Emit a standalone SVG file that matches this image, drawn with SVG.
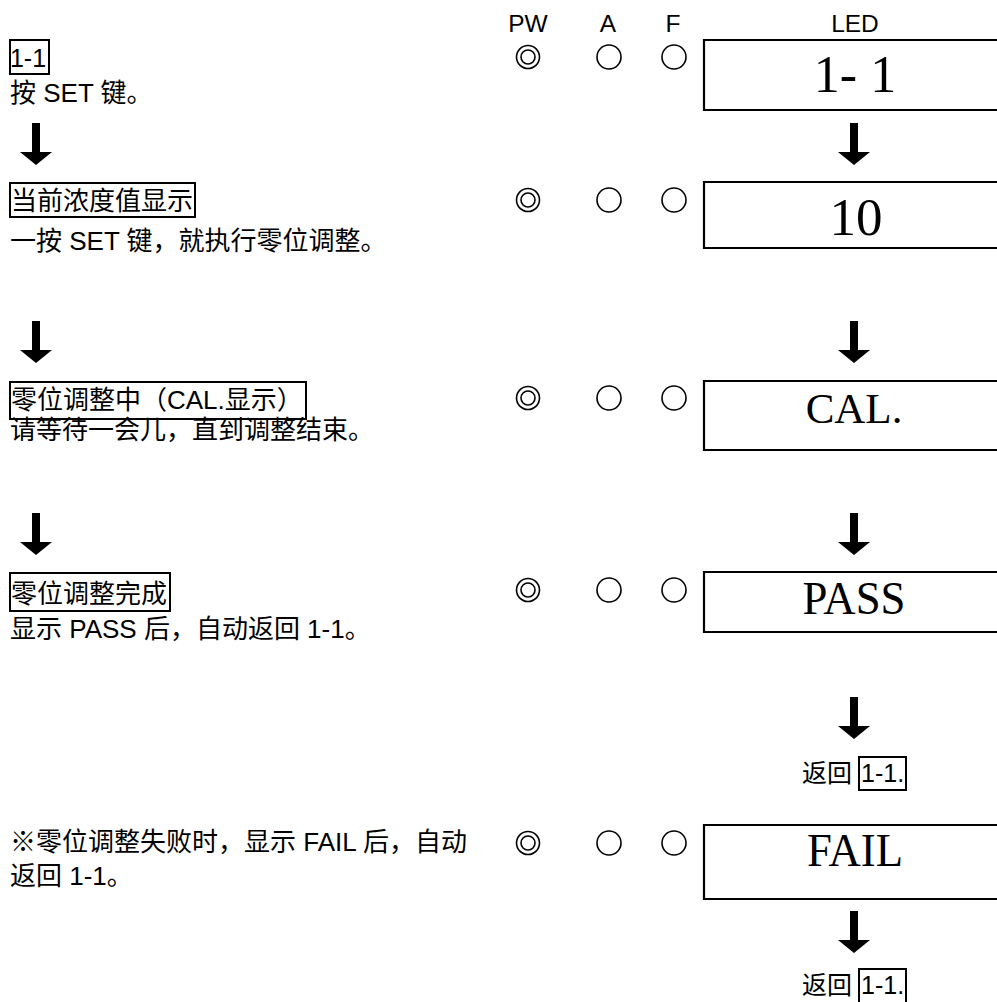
<svg xmlns="http://www.w3.org/2000/svg" xmlns:xlink="http://www.w3.org/1999/xlink" width="997" height="1002" viewBox="0 0 997 1002">
<style>
.t{font-family:"Liberation Sans","Noto Sans CJK SC",sans-serif;font-size:26px;fill:#000}
.h{font-family:"Liberation Sans","Noto Sans CJK SC",sans-serif;font-size:24.5px;fill:#000;text-anchor:middle}
.r{font-family:"Liberation Sans","Noto Sans CJK SC",sans-serif;font-size:25px;fill:#000}
.led{font-family:"Liberation Serif","Times New Roman",serif;fill:#000;text-anchor:middle}
.bx{fill:none;stroke:#000;stroke-width:2}
.ln{fill:none;stroke:#000;stroke-width:2.2}
.ci{fill:none;stroke:#000;stroke-width:1.6}
</style>
<defs>
<path id="arr" d="M-4,0 V29 H-16 L0,42 L16,29 H4 V0 Z" fill="#000"/>
<g id="lamps">
<circle class="ci" cx="528" cy="0" r="11.5"/>
<circle class="ci" cx="528" cy="0" r="7"/>
<circle class="ci" cx="609" cy="0" r="12"/>
<circle class="ci" cx="674" cy="0" r="12"/>
</g>
</defs>
<rect width="997" height="1002" fill="#fff"/>

<g id="header">
<text class="h" x="528" y="32">PW</text>
<text class="h" x="608" y="32">A</text>
<text class="h" x="673" y="32">F</text>
<text class="h" x="855" y="32">LED</text>
</g>

<g id="step1">
<rect class="bx" x="10" y="40" width="39" height="34"/>
<text class="t" x="10" y="67" textLength="36" lengthAdjust="spacingAndGlyphs">1-1</text>
<text class="t" x="10" y="102">按 SET 键。</text>
<use xlink:href="#lamps" transform="translate(0,57)"/>
<path class="ln" d="M1000,40 H704 V110 H1000"/>
<text class="led" x="855" y="92" font-size="52">1- 1</text>
</g>

<g id="step2">
<rect class="bx" x="10" y="183" width="185" height="34"/>
<text class="t" x="11" y="210">当前浓度值显示</text>
<text class="t" x="10" y="250">一按 SET 键，就执行零位调整。</text>
<use xlink:href="#lamps" transform="translate(0,200)"/>
<path class="ln" d="M1000,182 H704 V248 H1000"/>
<text class="led" x="856" y="235" font-size="53">10</text>
</g>

<g id="step3">
<rect class="bx" x="10" y="382" width="296" height="37"/>
<text class="t" x="11" y="409">零位调整中（CAL.显示）</text>
<text class="t" x="10" y="439">请等待一会儿，直到调整结束。</text>
<use xlink:href="#lamps" transform="translate(0,398)"/>
<path class="ln" d="M1000,381 H704 V450 H1000"/>
<text class="led" x="854" y="423" font-size="43">CAL.</text>
</g>

<g id="step4">
<rect class="bx" x="10" y="573" width="160" height="38"/>
<text class="t" x="11" y="603">零位调整完成</text>
<text class="t" x="10" y="638">显示 PASS 后，自动返回 1-1。</text>
<use xlink:href="#lamps" transform="translate(0,590)"/>
<path class="ln" d="M1000,572 H704 V632 H1000"/>
<text class="led" x="854" y="614" font-size="46" textLength="103" lengthAdjust="spacingAndGlyphs">PASS</text>
</g>

<g id="return1">
<text class="r" x="802" y="782">返回</text>
<rect class="bx" x="859" y="757" width="47" height="33"/>
<text class="r" x="861" y="782">1-1.</text>
</g>

<g id="fail">
<text class="t" x="10" y="851">※零位调整失败时，显示 FAIL 后，自动</text>
<text class="t" x="10" y="885">返回 1-1。</text>
<use xlink:href="#lamps" transform="translate(0,843)"/>
<path class="ln" d="M1000,825 H704 V899 H1000"/>
<text class="led" x="855" y="866" font-size="46" textLength="96" lengthAdjust="spacingAndGlyphs">FAIL</text>
</g>

<g id="return2">
<text class="r" x="802" y="994">返回</text>
<rect class="bx" x="859" y="969" width="47" height="34"/>
<text class="r" x="861" y="994">1-1.</text>
</g>

<g id="connectors">
<use xlink:href="#arr" transform="translate(36,123)"/>
<use xlink:href="#arr" transform="translate(854,123)"/>
<use xlink:href="#arr" transform="translate(36,321)"/>
<use xlink:href="#arr" transform="translate(854,321)"/>
<use xlink:href="#arr" transform="translate(36,513)"/>
<use xlink:href="#arr" transform="translate(854,513)"/>
<use xlink:href="#arr" transform="translate(854,697)"/>
<use xlink:href="#arr" transform="translate(854,911)"/>
</g>
</svg>
